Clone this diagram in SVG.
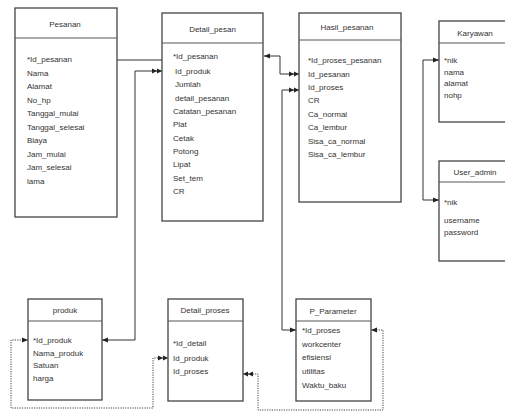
<svg xmlns="http://www.w3.org/2000/svg" width="505" height="414" viewBox="0 0 505 414">
<style>
.box{fill:#fff;stroke:#444;stroke-width:1.3}
.div{stroke:#555;stroke-width:1}
.t{font-family:"Liberation Sans",Arial,sans-serif;font-size:8px;fill:#333}
.c{text-anchor:middle}
.ln{fill:none;stroke:#333;stroke-width:1}
.dot{fill:none;stroke:#444;stroke-width:1;stroke-dasharray:1.2,1.2}
</style>
<defs>
<marker id="one" viewBox="0 0 6 6" refX="6" refY="3" markerWidth="6" markerHeight="6" markerUnits="userSpaceOnUse" orient="auto-start-reverse"><path d="M0,0.6 L6,3 L0,5.4 z" fill="#222"/></marker>
<marker id="many" viewBox="0 0 10 6" refX="10" refY="3" markerWidth="10" markerHeight="6" markerUnits="userSpaceOnUse" orient="auto-start-reverse"><path d="M0,0.6 L5,3 L0,5.4 z M5,0.6 L10,3 L5,5.4 z" fill="#222"/></marker>
</defs>
<rect width="505" height="414" fill="#fff"/>
<g id="connectors">
<path class="ln" d="M117,60 H162"/>
<path class="ln" d="M102,340 H135 V71 H162" marker-start="url(#one)" marker-end="url(#many)"/>
<path class="ln" d="M264,56 H280 V74 H299" marker-start="url(#one)" marker-end="url(#many)"/>
<path class="ln" d="M299,90 H282 V330 H296" marker-start="url(#many)" marker-end="url(#one)"/>
<path class="ln" d="M439,60 H423 V200 H439" marker-start="url(#one)" marker-end="url(#one)"/>
<path class="dot" d="M28,340 H11 V408 H153 V358 H168" marker-start="url(#one)" marker-end="url(#many)"/>
<path class="dot" d="M243,374 H258 V410 H383 V330 H371" marker-start="url(#many)" marker-end="url(#one)"/>
</g>
<g id="pesanan">
<rect class="box" x="15" y="8" width="102" height="209"/>
<line class="div" x1="15" y1="38" x2="117" y2="38"/>
<text class="t c" x="65" y="27">Pesanan</text>
<text class="t" x="27" y="62">*Id_pesanan</text>
<text class="t" x="27" y="75.5">Nama</text>
<text class="t" x="27" y="89">Alamat</text>
<text class="t" x="27" y="102.5">No_hp</text>
<text class="t" x="27" y="116">Tanggal_mulai</text>
<text class="t" x="27" y="129.5">Tanggal_selesai</text>
<text class="t" x="27" y="143">Biaya</text>
<text class="t" x="27" y="156.5">Jam_mulai</text>
<text class="t" x="27" y="170">Jam_selesai</text>
<text class="t" x="27" y="183.5">lama</text>
</g>
<g id="detail_pesan">
<rect class="box" x="162" y="13" width="101" height="208"/>
<line class="div" x1="162" y1="43" x2="263" y2="43"/>
<text class="t c" x="212.5" y="32">Detail_pesan</text>
<text class="t" x="173" y="59">*Id_pesanan</text>
<text class="t" x="175" y="73.5">Id_produk</text>
<text class="t" x="175" y="87">Jumlah</text>
<text class="t" x="175" y="100.5">detail_pesanan</text>
<text class="t" x="173" y="113.5">Catatan_pesanan</text>
<text class="t" x="173" y="127">Plat</text>
<text class="t" x="173" y="140.5">Cetak</text>
<text class="t" x="173" y="154">Potong</text>
<text class="t" x="173" y="167">Lipat</text>
<text class="t" x="173" y="180.5">Set_tem</text>
<text class="t" x="173" y="194">CR</text>
</g>
<g id="hasil_pesanan">
<rect class="box" x="299" y="13" width="102" height="189"/>
<line class="div" x1="299" y1="40" x2="401" y2="40"/>
<text class="t c" x="347" y="30">Hasil_pesanan</text>
<text class="t" x="308" y="63">*Id_proses_pesanan</text>
<text class="t" x="308" y="76.5">Id_pesanan</text>
<text class="t" x="308" y="90">Id_proses</text>
<text class="t" x="308" y="103">CR</text>
<text class="t" x="308" y="116.5">Ca_normal</text>
<text class="t" x="308" y="130">Ca_lembur</text>
<text class="t" x="308" y="143.5">Sisa_ca_normal</text>
<text class="t" x="308" y="157">Sisa_ca_lembur</text>
</g>
<g id="karyawan">
<rect class="box" x="439" y="21" width="75" height="101"/>
<line class="div" x1="439" y1="43" x2="514" y2="43"/>
<text class="t c" x="475" y="36">Karyawan</text>
<text class="t" x="444" y="63">*nik</text>
<text class="t" x="444" y="74.5">nama</text>
<text class="t" x="444" y="86">alamat</text>
<text class="t" x="444" y="97.5">nohp</text>
</g>
<g id="user_admin">
<rect class="box" x="439" y="161" width="75" height="100"/>
<line class="div" x1="439" y1="182" x2="514" y2="182"/>
<text class="t c" x="475" y="175">User_admin</text>
<text class="t" x="444" y="205">*nik</text>
<text class="t" x="444" y="222.5">username</text>
<text class="t" x="444" y="234.5">password</text>
</g>
<g id="produk">
<rect class="box" x="28" y="299" width="74" height="101"/>
<line class="div" x1="28" y1="321" x2="102" y2="321"/>
<text class="t c" x="65" y="313">produk</text>
<text class="t" x="33" y="343">*Id_produk</text>
<text class="t" x="33" y="355.5">Nama_produk</text>
<text class="t" x="33" y="368">Satuan</text>
<text class="t" x="33" y="380.5">harga</text>
</g>
<g id="detail_proses">
<rect class="box" x="168" y="299" width="75" height="102"/>
<line class="div" x1="168" y1="321" x2="243" y2="321"/>
<text class="t c" x="205" y="313">Detail_proses</text>
<text class="t" x="173" y="346">*Id_detail</text>
<text class="t" x="173" y="361">Id_produk</text>
<text class="t" x="173" y="374">Id_proses</text>
</g>
<g id="p_parameter">
<rect class="box" x="296" y="299" width="75" height="102"/>
<line class="div" x1="296" y1="321" x2="371" y2="321"/>
<text class="t c" x="333" y="314">P_Parameter</text>
<text class="t" x="302" y="333">*Id_proses</text>
<text class="t" x="302" y="346.5">workcenter</text>
<text class="t" x="302" y="360">efisiensi</text>
<text class="t" x="302" y="374">utilitas</text>
<text class="t" x="302" y="388">Waktu_baku</text>
</g>
</svg>
